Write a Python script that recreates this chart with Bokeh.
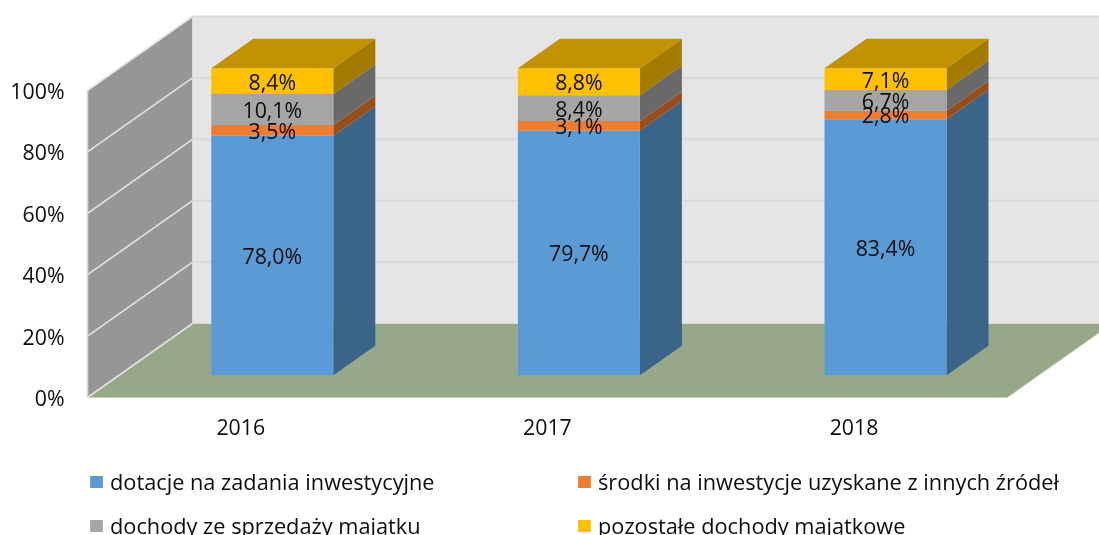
from bokeh.plotting import figure
from bokeh.models import Range1d, FixedTicker, Legend, LegendItem, ColumnDataSource
from bokeh.core.properties import value
from bokeh.embed import file_html
from bokeh.resources import INLINE

categories = ["2016", "2017", "2018"]
series_names = ["dotacje na zadania inwestycyjne",
                "środki na inwestycje uzyskane z innych źródeł",
                "dochody ze sprzedaży majątku",
                "pozostałe dochody majątkowe"]
dotacje = [78.0, 79.7, 83.4]
srodki = [3.5, 3.1, 2.8]
sprzedaz = [10.1, 8.4, 6.7]
pozostale = [8.4, 8.8, 7.1]
label_dotacje = ["78,0%", "79,7%", "83,4%"]
label_srodki = ["3,5%", "3,1%", "2,8%"]
label_sprzedaz = ["10,1%", "8,4%", "6,7%"]
label_pozostale = ["8,4%", "8,8%", "7,1%"]
y_ticks = [0, 20, 40, 60, 80, 100]
y_labels = ["0%", "20%", "40%", "60%", "80%", "100%"]

FONT = "Open Sans"
FS = "21.3px"
LEGEND_FS = "21.75px"
W, H = 1099, 535
ORIGIN_X, ORIGIN_Y = 87, 397  # where the front corner of the floor sits on the canvas
CAT_PX = 306.6        # pixels per category
PCT_PX = 3.07         # pixels per percent
DX = 105 / CAT_PX     # full depth, in category units
DY = 74 / PCT_PX      # full depth, in percent units
HALF = 61 / CAT_PX    # half a bar's width
D0, D1 = 0.3, 0.7     # bar's depth span

FRONT = ["#5B9BD5", "#ED7D31", "#A5A5A5", "#FFC000"]
SIDE = ["#3A6488", "#964F1C", "#696969", "#A37B00"]
TOP = "#C29200"
TEXT = "#0D0D0D"

p = figure(width=W, height=H, output_backend="svg", toolbar_location=None,
           x_range=Range1d(-ORIGIN_X / CAT_PX, (W - ORIGIN_X) / CAT_PX),
           y_range=Range1d(-(H - ORIGIN_Y) / PCT_PX, ORIGIN_Y / PCT_PX),
           min_border=0, outline_line_color=None,
           background_fill_color="white", border_fill_color="white",
           styles={"position": "fixed", "left": "0px", "top": "0px"})
p.xgrid.visible = False
p.ygrid.visible = False


def pt(x, y, d):
    return x + d * DX, y + d * DY


# walls and floor
n = len(categories)
bx = [0, n, n + DX, DX]
by = [0, 0, DY, DY]
p.patch(bx, by, fill_color="#97A888", line_color="#C5D3B8", line_width=1)
top = y_ticks[-1]
p.patch([DX, n + DX, n + DX, DX], [DY, DY, top + DY, top + DY],
        fill_color="#E5E5E5", line_color=None)
p.patch([0, DX, DX, 0], [0, DY, top + DY, top],
        fill_color="#969696", line_color=None)
p.segment([DX] * len(y_ticks[1:]), [t + DY for t in y_ticks[1:]],
          [n + DX] * len(y_ticks[1:]), [t + DY for t in y_ticks[1:]],
          line_color="#D9D9D9", line_width=2)
p.segment([0] * len(y_ticks), y_ticks, [DX] * len(y_ticks), [t + DY for t in y_ticks],
          line_color="#E2E2E2", line_width=1.6)
p.segment([0], [0], [0], [top], line_color="#D9D9D9", line_width=1.6)
p.segment([DX], [DY], [DX], [top + DY], line_color="#D9D9D9", line_width=1)

# bars
all_series = [dotacje, srodki, sprzedaz, pozostale]
all_labels = [label_dotacje, label_srodki, label_sprzedaz, label_pozostale]
bottoms = [0.0] * n
front_renderers = []
texts = {"x": [], "y": [], "t": []}
for s, vals in enumerate(all_series):
    fl, fb, fr, ft = [], [], [], []
    sx, sy = [], []
    for i, v in enumerate(vals):
        cx = i + 0.5
        b = bottoms[i]
        t = b + v
        xl, yb = pt(cx - HALF, b, D0)
        xr, yt = pt(cx + HALF, t, D0)
        fl.append(xl); fr.append(xr); fb.append(yb); ft.append(yt)
        xb, ybb = pt(cx + HALF, b, D1)
        _, ybt = pt(cx + HALF, t, D1)
        sx.append([xr, xb, xb, xr])
        sy.append([yb, ybb, ybt, yt])
        texts["x"].append(xl + HALF)
        texts["y"].append((yb + yt) / 2)
        texts["t"].append(all_labels[s][i])
        bottoms[i] = t
    p.patches(sx, sy, fill_color=SIDE[s], line_color=None)
    front_renderers.append(
        p.quad(left=fl, right=fr, bottom=fb, top=ft, fill_color=FRONT[s], line_color=None))

tx, ty = [], []
for i in range(n):
    cx = i + 0.5
    b = bottoms[i]
    a = pt(cx - HALF, b, D0)
    c = pt(cx + HALF, b, D0)
    e = pt(cx + HALF, b, D1)
    g = pt(cx - HALF, b, D1)
    tx.append([a[0], c[0], e[0], g[0]])
    ty.append([a[1], c[1], e[1], g[1]])
p.patches(tx, ty, fill_color=TOP, line_color=None)

p.text(x="x", y="y", text="t", source=ColumnDataSource(texts),
       text_font=value(FONT), text_font_size=value(FS), text_color=TEXT,
       text_align="center", text_baseline="middle")

# axes
p.yaxis.fixed_location = 0
p.yaxis.ticker = FixedTicker(ticks=y_ticks)
p.yaxis.major_label_overrides = {t: l for t, l in zip(y_ticks, y_labels)}
p.yaxis.axis_line_color = None
p.yaxis.major_tick_line_color = None
p.yaxis.minor_tick_line_color = None
p.yaxis.major_label_standoff = 17
p.yaxis.major_label_text_font = FONT
p.yaxis.major_label_text_font_size = FS
p.yaxis.major_label_text_color = TEXT

centers = [i + 0.5 for i in range(n)]
p.xaxis.fixed_location = 0
p.xaxis.ticker = FixedTicker(ticks=centers)
p.xaxis.major_label_overrides = {c: l for c, l in zip(centers, categories)}
p.xaxis.axis_line_color = None
p.xaxis.major_tick_line_color = None
p.xaxis.minor_tick_line_color = None
p.xaxis.major_label_standoff = 15
p.xaxis.major_label_text_font = FONT
p.xaxis.major_label_text_font_size = FS
p.xaxis.major_label_text_color = TEXT


# legend: one vertical legend per column, so that the columns can be placed freely
def legend(idx, loc):
    lg = Legend(items=[LegendItem(label=series_names[j], renderers=[front_renderers[j]]) for j in idx],
                location=loc, orientation="vertical", padding=0, margin=0, spacing=15,
                border_line_color=None, background_fill_alpha=0,
                glyph_width=16, glyph_height=15, label_standoff=6,
                label_text_font=FONT, label_text_font_size=LEGEND_FS, label_text_color=TEXT)
    p.add_layout(lg, "center")


legend([0, 2], (88, -5))
legend([1, 3], (576, -5))

open("out.html", "w").write(file_html(p, INLINE))
